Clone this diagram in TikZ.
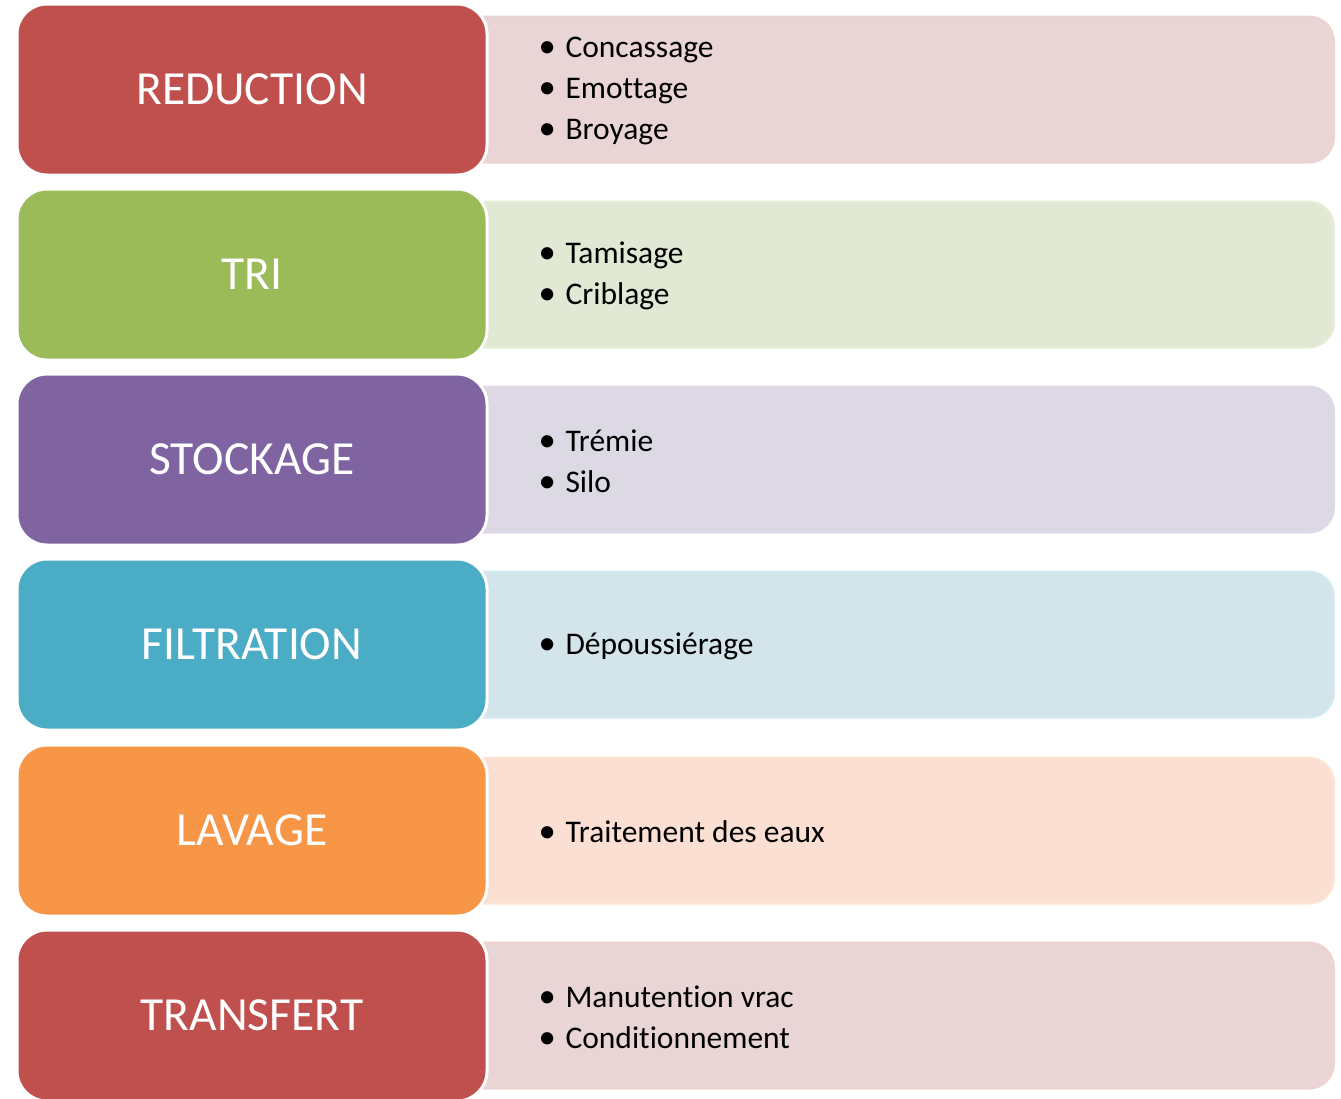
\documentclass[tikz,border=0pt]{standalone}
\usepackage{fontspec}
\setmainfont[Ligatures={NoCommon}]{Carlito}
\definecolor{redA}{HTML}{C0504D}
\definecolor{greenA}{HTML}{9BBB59}
\definecolor{violetA}{HTML}{8064A2}
\definecolor{blueA}{HTML}{4BACC6}
\definecolor{orangeA}{HTML}{F79646}
\definecolor{redL}{HTML}{E9D5D5}
\definecolor{greenL}{HTML}{E1E8D4}
\definecolor{violetL}{HTML}{DCD8E4}
\definecolor{blueL}{HTML}{D3E4EA}
\definecolor{orangeL}{HTML}{FCDFD3}
\tikzset{
	stage/.style={draw=white, line width=3pt, rounded corners=30pt, minimum width=470pt, minimum height=171pt, text=white, font=\fontsize{47.5}{50}\selectfont},
	detail/.style={line width=2pt, rounded corners=25pt, minimum width=894pt, minimum height=146pt},
	items/.style={anchor=west, align=left, font=\fontsize{31.5}{41}\selectfont}
}
\newcommand{\itm}[1]{\makebox[24pt][l]{\hspace{-3pt}\scalebox{1.1}{\textbullet}}#1}
\begin{document}
\begin{tikzpicture}[x=1pt,y=-1pt]
		\useasboundingbox (0,0) rectangle (1341,1098);
		\node[detail, fill=redL, draw=redA!25] (redbox) at (887,89.5) {};
		\node[detail, fill=greenL, draw=greenA!25] (tribox) at (887,274.5) {};
		\node[detail, fill=violetL, draw=violetA!25] (stockbox) at (887,459.5) {};
		\node[detail, fill=blueL, draw=blueA!25] (filtbox) at (887,644.5) {};
		\node[detail, fill=orangeL, draw=orangeA!25] (lavbox) at (887,830.5) {};
		\node[detail, fill=redL, draw=redA!25] (transbox) at (887,1015.5) {};
		\node[stage, fill=redA] (reduction) at (252,89.5) {REDUCTION};
		\node[stage, fill=greenA] (tri) at (252,274.5) {TRI};
		\node[stage, fill=violetA] (stockage) at (252,459.5) {STOCKAGE};
		\node[stage, fill=blueA] (filtration) at (252,644.5) {FILTRATION};
		\node[stage, fill=orangeA] (lavage) at (252,830.5) {LAVAGE};
		\node[stage, fill=redA] (transfert) at (252,1015.5) {TRANSFERT};
		\node[items] (redtxt) at (538,90.5) {\itm{Concassage}\\\itm{Emottage}\\\itm{Broyage}};
		\node[items] (tritxt) at (538,276) {\itm{Tamisage}\\\itm{Criblage}};
		\node[items] (stocktxt) at (538,461) {\itm{Trémie}\\\itm{Silo}};
		\node[items] (filttxt) at (538,646) {\itm{Dépoussiérage}};
		\node[items] (lavtxt) at (538,832) {\itm{Traitement des eaux}};
		\node[items] (transtxt) at (538,1017) {\itm{Manutention vrac}\\\itm{Conditionnement}};
	\end{tikzpicture}
\end{document}
